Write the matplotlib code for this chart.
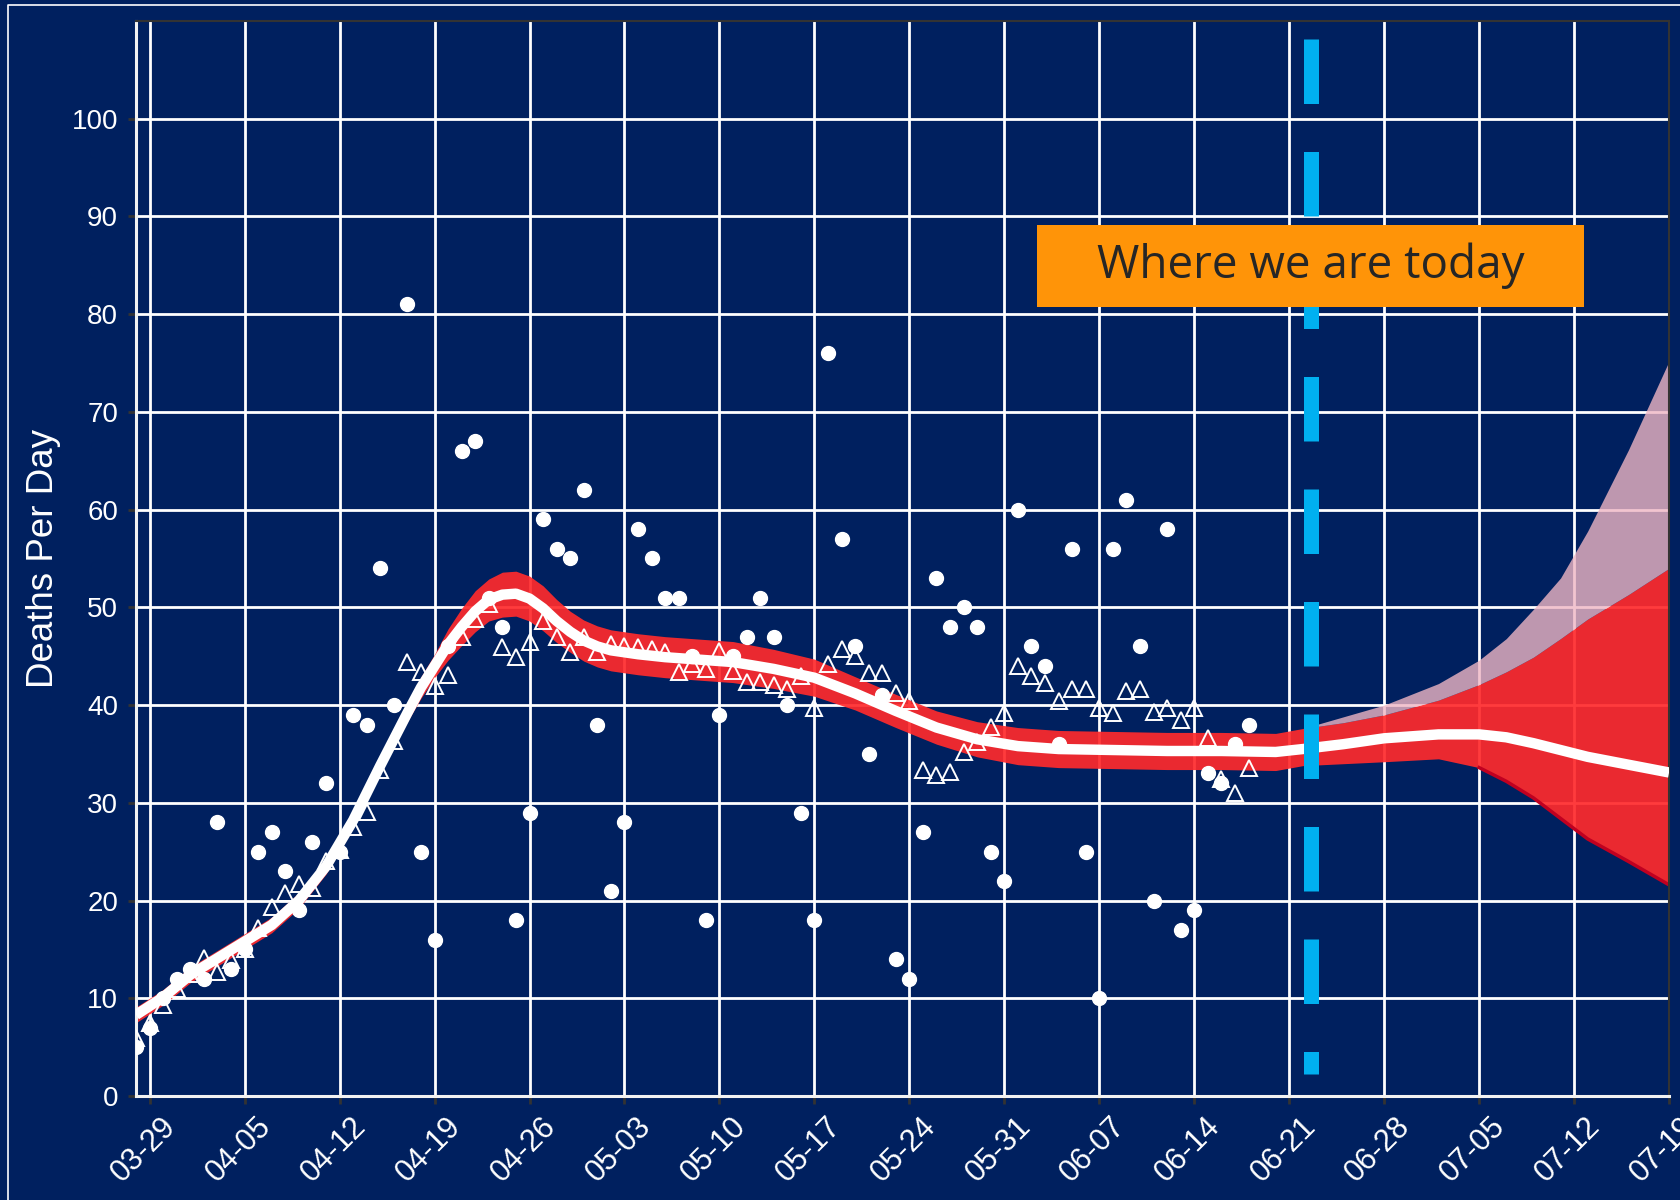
import matplotlib.pyplot as plt
from matplotlib.patches import Rectangle
from matplotlib.lines import Line2D
from matplotlib.transforms import ScaledTranslation

# days counted from 03-28
tick_days = [1, 8, 15, 22, 29, 36, 43, 50, 57, 64, 71, 78, 85, 92, 99, 106, 113]
tick_labels = ["03-29", "04-05", "04-12", "04-19", "04-26", "05-03", "05-10", "05-17",
               "05-24", "05-31", "06-07", "06-14", "06-21", "06-28", "07-05", "07-12", "07-19"]

obs_days = list(range(83))
daily_deaths = [5, 7, 10, 12, 13, 12, 28, 13, 15, 25, 27, 23, 19, 26, 32, 25, 39, 38, 54, 40,
                81, 25, 16, 46, 66, 67, 51, 48, 18, 29, 59, 56, 55, 62, 38, 21, 28, 58, 55, 51,
                51, 45, 18, 39, 45, 47, 51, 47, 40, 29, 18, 76, 57, 46, 35, 41, 14, 12, 27, 53,
                48, 50, 48, 25, 22, 60, 46, 44, 36, 56, 25, 10, 56, 61, 46, 20, 58, 17, 19, 33,
                32, 36, 38]
avg_deaths = [5.9, 7.5, 9.3, 10.9, 12.5, 14.1, 12.7, 13.9, 15.0, 17.2, 19.3, 20.8, 21.7, 21.3,
              24.0, 25.2, 27.5, 29.1, 33.4, 36.3, 44.4, 43.4, 42.0, 43.1, 47.0, 48.8, 50.3,
              45.9, 44.9, 46.5, 48.6, 47.0, 45.4, 47.0, 45.4, 46.2, 46.0, 45.9, 45.7, 45.4,
              43.4, 44.2, 43.7, 45.5, 43.5, 42.4, 42.4, 42.1, 41.6, 43.0, 39.7, 44.2, 45.7,
              45.0, 43.3, 43.3, 41.2, 40.4, 33.4, 32.8, 33.1, 35.2, 36.2, 37.8, 39.2, 44.0,
              43.0, 42.3, 40.4, 41.6, 41.6, 39.7, 39.2, 41.4, 41.6, 39.3, 39.7, 38.5, 39.7,
              36.6, 32.4, 31.0, 33.6]

fit_days = [0, 2, 4, 6, 8, 10, 12, 14, 16, 18, 20, 21, 22, 23, 24, 25, 26, 27, 28, 29, 30,
            31, 32, 33, 34, 35, 37, 39, 41, 44, 47, 50, 53, 56, 59, 62, 65, 68, 72, 76, 80,
            84, 86, 89, 92, 96, 99, 101, 103, 105, 107, 110, 113]
fit_mid = [8.3, 10.1, 12.4, 14.1, 15.8, 17.5, 20.0, 23.5, 28.2, 33.8, 39.2, 41.8, 44.0, 46.2,
           48.0, 49.6, 50.8, 51.3, 51.4, 50.9, 49.9, 48.6, 47.5, 46.6, 46.0, 45.6, 45.2,
           44.9, 44.7, 44.4, 43.7, 42.8, 41.2, 39.4, 37.7, 36.5, 35.8, 35.5, 35.4, 35.3,
           35.3, 35.2, 35.5, 36.0, 36.6, 37.0, 37.0, 36.7, 36.1, 35.4, 34.7, 33.9, 33.1]
fit_lo = [7.5, 9.3, 11.6, 13.3, 15.0, 16.7, 19.2, 22.7, 27.4, 33.0, 38.3, 40.7, 42.8, 44.6,
          46.1, 47.5, 48.6, 49.0, 49.1, 48.6, 47.6, 46.4, 45.4, 44.5, 43.9, 43.5, 43.1,
          42.8, 42.6, 42.3, 41.7, 40.9, 39.5, 37.7, 36.0, 34.7, 33.9, 33.6, 33.5, 33.4,
          33.4, 33.3, 33.8, 34.0, 34.2, 34.5, 33.6, 32.2, 30.5, 28.4, 26.3, 24.0, 21.6]
fit_hi = [9.1, 10.9, 13.2, 14.9, 16.6, 18.3, 20.8, 24.3, 29.0, 34.6, 40.1, 42.9, 45.2, 47.8,
          49.9, 51.7, 52.9, 53.6, 53.7, 53.2, 52.2, 50.8, 49.6, 48.7, 48.1, 47.7, 47.3,
          47.0, 46.8, 46.5, 45.7, 44.7, 42.9, 41.1, 39.4, 38.3, 37.7, 37.4, 37.3, 37.2,
          37.2, 37.1, 37.6, 38.2, 39.0, 40.5, 42.1, 43.4, 44.9, 46.8, 48.8, 51.3, 54.0]

# upper scenario of the forecast (pink)
pink_days = [86, 89, 92, 96, 99, 101, 103, 105, 107, 110, 113]
pink_hi = [37.6, 38.8, 40.0, 42.2, 44.6, 46.8, 49.8, 53.0, 57.8, 66.1, 75.2]
pink_lo = [37.6, 38.2, 39.0, 40.5, 42.1, 43.4, 44.9, 46.8, 48.8, 51.3, 54.0]

today = 86.6

navy = "#00205F"
plt.rcParams["font.family"] = ["Liberation Sans", "DejaVu Sans"]

fig = plt.figure(figsize=(16.8, 12), dpi=100, facecolor=navy)
ax = fig.add_axes([0.081, 0.0867, 0.9125, 0.8958])
ax.set_facecolor(navy)

ax.fill_between(fit_days, fit_lo, fit_hi, color="#FF2A2C", alpha=0.92, lw=0, zorder=2)
ax.fill_between(pink_days, pink_lo, pink_hi, color="#EFB6C4", alpha=0.8, lw=0, zorder=2)
ax.plot(fit_days[-7:], fit_lo[-7:], color="#C00020", lw=2.5, zorder=2)
ax.plot(fit_days, fit_mid, color="white", lw=7.5, solid_capstyle="butt",
        solid_joinstyle="round", zorder=3)

ax.plot(obs_days, avg_deaths, ls="none", marker="^", ms=12, mfc="none", mec="white",
        mew=1.4, zorder=4)
ax.plot(obs_days, daily_deaths, ls="none", marker="o", ms=10, mfc="white", mec="white",
        zorder=5)

ax.plot([today, today], [108.2, 2.2], color="#00B0F0", lw=10.8, dashes=(4.3, 3.2),
        solid_capstyle="butt", dash_capstyle="butt", zorder=6)

ax.add_patch(Rectangle((0.588, 0.734), 0.3566, 0.076, transform=ax.transAxes,
                       facecolor="#FF9408", edgecolor="none", zorder=7))
ax.text(0.7663, 0.772, "Where we are today", transform=ax.transAxes, ha="center",
        va="center", fontsize=33, color="#262626", family=["Open Sans", "DejaVu Sans"],
        zorder=8)

ax.set_xlim(0, 113)
ax.set_ylim(0, 110)
ax.set_xticks(tick_days)
ax.set_xticklabels(tick_labels, rotation=45, ha="right", va="top", rotation_mode="anchor")
ax.set_yticks(range(0, 101, 10))
ax.tick_params(colors="#333333", labelcolor="white", labelsize=20, length=6, width=2, pad=7)
ax.tick_params(axis="x", labelsize=22, pad=5)
shift = ScaledTranslation(8 / 72, 0, fig.dpi_scale_trans)
for lab in ax.get_xticklabels():
    lab.set_transform(lab.get_transform() + shift)

ax.set_axisbelow(True)
ax.grid(True, color="white", lw=2.0)
for side in ["left", "bottom"]:
    ax.spines[side].set_color("#F2F2F2")
    ax.spines[side].set_linewidth(2.2)
for side in ["top", "right"]:
    ax.spines[side].set_color("#333333")
    ax.spines[side].set_linewidth(1.5)

fig.text(0.026, 0.535, "Deaths Per Day", rotation=90, ha="center", va="center",
         fontsize=26.5, color="white")

# slide frame, visible on the left and top only
fig.lines.append(Line2D([0.005, 0.005, 1.0], [0.0, 0.996, 0.996], transform=fig.transFigure,
                        color="white", lw=1.2))

fig.savefig("out.png", dpi=100, facecolor=navy)
